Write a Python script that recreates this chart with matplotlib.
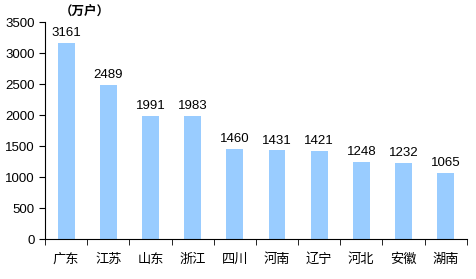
import matplotlib.pyplot as plt

plt.rcParams['font.family'] = ['Liberation Sans', 'Noto Sans CJK SC', 'DejaVu Sans']

provinces = ["广东", "江苏", "山东", "浙江", "四川", "河南", "辽宁", "河北", "安徽", "湖南"]
households = [3161, 2489, 1991, 1983, 1460, 1431, 1421, 1248, 1232, 1065]
y_ticks = [0, 500, 1000, 1500, 2000, 2500, 3000, 3500]

fig = plt.figure(figsize=(4.76, 2.79), dpi=100)
ax = fig.add_axes([0.0945, 0.143, 0.886, 0.778])

x = list(range(len(provinces)))
ax.bar(x, households, width=0.4, color="#99CCFF")

for xi, v in zip(x, households):
    ax.text(xi, v + 60, str(v), ha="center", va="bottom", fontsize=9.5)

ax.set_xlim(-0.5, len(provinces) - 0.5)
ax.set_ylim(0, 3500)
ax.set_yticks(y_ticks)
ax.tick_params(axis="y", labelsize=9.5, length=4, direction="out")

# labels centred under bars, tick marks between categories
ax.set_xticks(x)
ax.set_xticklabels(provinces, fontsize=9.5, family=['Noto Sans CJK SC'])
ax.tick_params(axis="x", length=0, pad=10)
ax.set_xticks([i - 0.5 for i in range(len(provinces) + 1)], minor=True)
ax.tick_params(axis="x", which="minor", length=4, direction="out")

for side in ["top", "right"]:
    ax.spines[side].set_visible(False)

fig.text(0.125, 0.955, "（万户）", ha="left", va="center", fontsize=9,
         fontweight="bold", family=['Noto Sans CJK SC'])

fig.savefig("out.png", dpi=100)
